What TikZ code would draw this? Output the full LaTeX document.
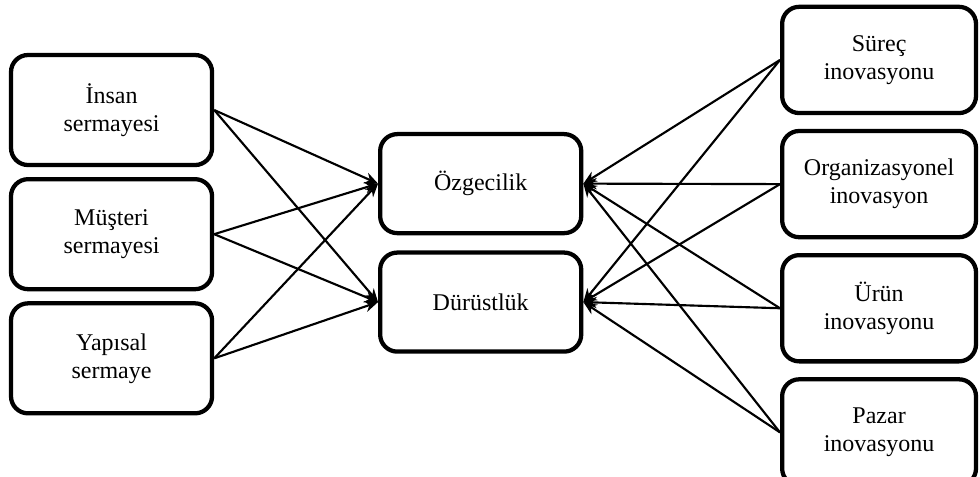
\documentclass[tikz,border=0pt]{standalone}
\usepackage{fontspec}
\setmainfont{Liberation Serif}
\usepackage{tikz}
\usetikzlibrary{arrows.meta,positioning}

\begin{document}
\begin{tikzpicture}[
  >={Stealth[length=10pt,width=8.5pt]},
  every node/.style={font=\fontsize{18}{21}\selectfont},
  capB/.style={draw,line width=3.2pt,rounded corners=0.45cm,
               minimum width=5.3cm,minimum height=2.9cm,align=center},
  midB/.style={draw,line width=3.2pt,rounded corners=0.45cm,
               minimum width=5.3cm,minimum height=2.61cm,align=center},
  innB/.style={draw,line width=3.2pt,rounded corners=0.45cm,
               minimum width=5.11cm,minimum height=2.8cm,align=center},
  lnk/.style={->,line width=1.6pt}
]
\useasboundingbox (0,0) rectangle (25.83,-12.57);

%% Left column: capital
\node[capB] (ins) at (2.94,-2.9) {İnsan\\sermayesi};
\node[capB,below=0.26cm of ins] (mus) {Müşteri\\sermayesi};
\node[capB,below=0.26cm of mus] (yap) {Yapısal\\sermaye};

%% Middle column
\node[midB] (ozg) at (12.67,-4.84) {Özgecilik};
\node[midB,below=0.4cm of ozg] (dur) {Dürüstlük};

%% Right column: innovation
\node[innB] (sur) at (23.17,-1.58) {Süreç\\inovasyonu};
\node[innB,below=0.36cm of sur] (org) {Organizasyonel\\inovasyon};
\node[innB,below=0.36cm of org] (uru) {Ürün\\inovasyonu};
\node[innB,below=0.36cm of uru] (paz) {Pazar\\inovasyonu};

%% Arrows from the left
\foreach \s in {ins,mus,yap}{
  \draw[lnk] (\s.east) -- (ozg.west);
  \draw[lnk] (\s.east) -- (dur.west);
}

%% Arrows from the right
\foreach \s in {sur,org,uru,paz}{
  \draw[lnk] (\s.west) -- (ozg.east);
  \draw[lnk] (\s.west) -- (dur.east);
}

\end{tikzpicture}
\end{document}
